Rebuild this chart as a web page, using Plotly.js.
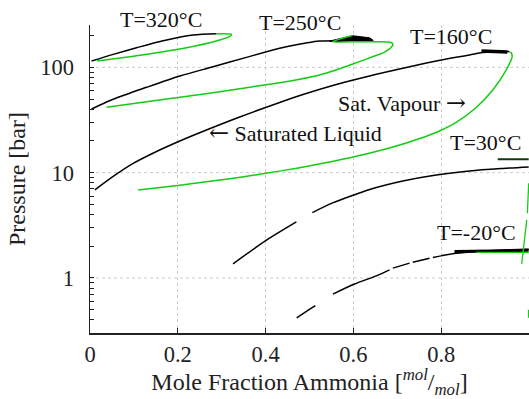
<!DOCTYPE html>
<html>
<head>
<meta charset="utf-8">
<script src="https://cdn.plot.ly/plotly-3.0.1.min.js"></script>
<style>html,body{margin:0;padding:0;background:#fff;}#chart{width:529px;height:399px;}</style>
</head>
<body>
<div id="chart"></div>
<script>
// ---- data (mole fraction ammonia, pressure in bar) ----
const x320L = [0.0036,0.0528,0.106,0.1666,0.2348,0.288];
const p320L = [114.8,132.8,153.5,178.8,202.5,208.3];
const x320V = [0.0164,0.0908,0.1666,0.2425,0.2956,0.32,0.3222,0.288];
const p320V = [114.8,126.1,140.6,160.3,181.6,198.2,205.6,208.3];

const x250L = [0.0036,0.0528,0.1288,0.2046,0.2803,0.3563,0.4321,0.489,0.523,0.6437];
const p250L = [40.2,49.7,64.6,82.7,101.3,124.4,151.5,169,177.6,177.6];
const xBlob250 = [0.5459,0.5686,0.5982,0.6368,0.6444,0.6444,0.5459];
const pBlob250 = [177.7,187.6,199.4,190.9,181.6,175.8,175.8];
const x250V = [0.0378,0.1288,0.2046,0.2803,0.3563,0.4321,0.4776,0.5231,0.5618,0.5989,0.6482,0.671,0.6846,0.6903,0.6869,0.671,0.614,0.5527,0.5686,0.5982];
const p250V = [41.7,47.2,51.9,57.4,64.1,71.4,77.1,84.5,94.7,107.5,128,139.7,152.4,164.6,171.9,174.6,175.3,174.6,185.5,200.3];

const x160L = [0.0111,0.0528,0.0983,0.1515,0.2046,0.2539,0.341,0.4321,0.4851,0.5611,0.6368,0.7126,0.7886,0.8644,0.8947,0.9554];
const p160L = [6.85,9.2,12.23,15.89,19.99,24.33,33.78,46.4,55.2,68.7,82.7,97.8,114.8,130.9,138.2,141.2];
const xBlob160 = [0.8917,0.9508];
const pBlob160 = [142.8,139.7];
const x160V = [0.1097,0.2046,0.3183,0.3941,0.4775,0.5306,0.6066,0.6823,0.7581,0.7961,0.8341,0.8797,0.9174,0.9479,0.9616,0.9593,0.9554];
const p160V = [6.85,7.61,8.75,9.76,11.15,12.28,14.31,17.15,21.58,24.86,29.95,41.56,60.9,94.3,126.1,137.5,140.3];

const x30L = [0.3258,0.3995,0.4701,null,0.5065,0.5527,0.6011,0.6369,0.7126,0.7886,0.8644,0.9402,0.9993];
const p30L = [1.361,2.249,3.407,null,4.174,5.16,6.143,6.93,8.34,9.51,10.38,10.96,11.33];
const x30T = [0.9288,0.9993];
const p30T = [13.4,13.4];
const x30V = [0.9993,0.9963];
const p30V = [7.93,4.12];

const xm20L = [0.4708,0.4913,0.5133,null,0.5534,0.6011,0.6521,0.6824,null,0.6899,0.7279,null,0.7354,0.7734,null,0.7809,0.8264,0.8644,0.9099,0.9554,0.9993];
const pm20L = [0.418,0.477,0.547,null,0.702,0.87,1.047,1.193,null,1.239,1.382,null,1.412,1.541,null,1.561,1.693,1.761,1.812,1.848,1.876];
const xm20T = [0.8303,0.9993];
const pm20T = [1.78,1.828];
const xm20G = [0.8797,0.9993];
const pm20G = [1.75,1.75];
const xm20V = [0.9948,0.9834,null,0.999,0.999];
const pm20V = [3.557,1.361,null,0.498,0.418];

const ARW = s => '<span style="font-family:DejaVu Serif;font-size:24px">' + s + '</span>';
const labels = ['T=320°C','T=250°C','T=160°C','T=30°C','T=-20°C','Sat. Vapour ' + ARW('→'), ARW('←') + ' Saturated Liquid'];
const labX = [0.1625,0.4787,0.8228,0.9004,0.8803,0.7108,0.4684];
const labP = [287,269,198.2,19.34,2.679,45.85,23.8];

const xTicks = [0,0.2,0.4,0.6,0.8,1];
const xTickText = ['0','0.2','0.4','0.6','0.8','1'];
const yTicks = [1,10,100];
const yTickText = ['1','10','100'];
const yMinor = [0.3,0.4,0.5,0.6,0.7,0.8,0.9,2,3,4,5,6,7,8,9,20,30,40,50,60,70,80,90,200];
const yRange = [Math.log10(0.3), 2.402];

// ---- styling ----
const BLACK = '#000000', GREEN = '#14cc14', DARKG = '#0b3b0b', GRID = '#cccccc';
const FONT = 'Liberation Serif, Times New Roman, serif';
const yFrac = v => (Math.log10(v) - yRange[0]) / (yRange[1] - yRange[0]);
function ln(x, y, color, w, smooth) {
  return {x: x, y: y, type: 'scatter', mode: 'lines', connectgaps: false,
          line: {color: color, width: w, shape: smooth ? 'spline' : 'linear', smoothing: smooth || 0},
          hoverinfo: 'skip', showlegend: false, cliponaxis: false};
}
const traces = [
  ln(x320L, p320L, BLACK, 1.5, 0.8),
  ln(x250L, p250L, BLACK, 1.5, 0.8),
  Object.assign(ln(xBlob250, pBlob250, BLACK, 1), {fill: 'toself', fillcolor: BLACK}),
  ln(x160L, p160L, BLACK, 1.5, 0.9),
  ln(xBlob160, pBlob160, BLACK, 3.5),
  ln(x30L, p30L, BLACK, 1.5, 0.9),
  ln(x30T, p30T, DARKG, 2),
  ln(xm20L, pm20L, BLACK, 1.5, 0.8),
  ln(xm20T, pm20T, BLACK, 3),
  ln(x320V, p320V, GREEN, 1.5, 0.7),
  ln(x250V, p250V, GREEN, 1.5, 0.7),
  ln(x160V, p160V, GREEN, 1.5, 0.8),
  ln(x30V, p30V, GREEN, 1.3),
  ln(xm20G, pm20G, GREEN, 1.3),
  ln(xm20V, pm20V, GREEN, 1.3)
];

const annotations = labels.map((t, i) => ({
  text: t, x: labX[i], xref: 'x', y: yFrac(labP[i]), yref: 'paper',
  showarrow: false, xanchor: 'center', yanchor: 'middle',
  font: {family: FONT, size: 22, color: '#111'}
}));

// dotted horizontal grid lines at the decade ticks
const shapes = yTicks.map(v => ({
  type: 'line', xref: 'paper', yref: 'paper', x0: 0, x1: 1, y0: yFrac(v), y1: yFrac(v),
  layer: 'below', line: {color: GRID, width: 1, dash: 'dot'}
}));

const axisCommon = {
  ticks: 'inside', tickwidth: 1, tickcolor: '#222',
  showline: true, linecolor: '#222', linewidth: 1.5, mirror: false,
  zeroline: false, automargin: false,
  tickfont: {family: FONT, size: 22.5, color: '#222'}
};

const layout = {
  width: 529, height: 399,
  margin: {l: 90, r: 0, t: 25, b: 66, pad: 0},
  paper_bgcolor: '#ffffff', plot_bgcolor: '#ffffff',
  font: {family: FONT, size: 22.5, color: '#222'},
  showlegend: false,
  xaxis: Object.assign({}, axisCommon, {
    range: [0, 1], tickvals: xTicks, ticktext: xTickText, ticklen: 5, ticklabelstandoff: 0,
    showgrid: true, gridcolor: GRID, griddash: 'dot', gridwidth: 1,
    title: {text: 'Mole Fraction Ammonia [<sup><i>mol</i></sup>/<sub><i>mol</i></sub>]',
            font: {family: FONT, size: 24, color: '#222'}, standoff: 10}
  }),
  yaxis: Object.assign({}, axisCommon, {
    type: 'log', range: yRange,
    tickvals: yTicks.concat(yMinor), ticktext: yTickText.concat(yMinor.map(() => '')),
    ticklen: 4, ticklabelstandoff: 10, showgrid: false,
    title: {text: 'Pressure [bar]', font: {family: FONT, size: 24, color: '#222'}, standoff: 8}
  }),
  shapes: shapes,
  annotations: annotations
};

Plotly.newPlot('chart', traces, layout, {staticPlot: true, displayModeBar: false});
</script>
</body>
</html>
